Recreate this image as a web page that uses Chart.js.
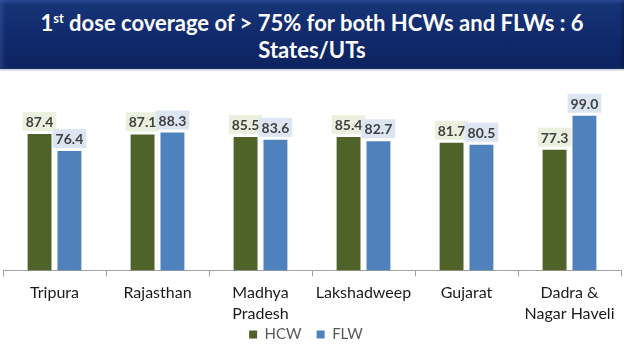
<!DOCTYPE html>
<html>
<head>
<meta charset="utf-8">
<script src="https://cdn.jsdelivr.net/npm/chart.js@4.4.1/dist/chart.umd.min.js"></script>
<style>
  html, body { margin: 0; padding: 0; background: #fff; }
  #wrap { position: relative; width: 624px; height: 351px; overflow: hidden; }
  #banner {
    position: absolute; left: 0; top: 0; width: 624px; height: 71px;
    background: linear-gradient(to bottom, #2c4c9c 0px, #163477 4px, #10296b 40px, #0c235e 71px);
    box-shadow: inset 3px 0 4px rgba(80,110,190,0.35), inset -2px 0 3px rgba(0,0,0,0.3);
    border-bottom: 2px solid #d8dce4;
    color: #fff; font-family: Lato, "Open Sans", sans-serif; font-weight: bold;
    font-size: 22px; line-height: 27px; text-align: center; padding-top: 9px; box-sizing: border-box;
  }
  #banner sup { font-size: 13px; vertical-align: 8px; line-height: 0; }
  canvas { position: absolute; left: 0; top: 0; }
</style>
</head>
<body>
<div id="wrap">
  <canvas id="chart" width="624" height="351"></canvas>
  <div id="banner">1<sup>st</sup> dose coverage of &gt; 75% for both HCWs and FLWs : 6<br>States/UTs</div>
</div>
<script>
// états / UTs
const states = ['Tripura', 'Rajasthan', ['Madhya', 'Pradesh'], 'Lakshadweep', 'Gujarat', ['Dadra &', 'Nagar Haveli']];
const hcwValues = [87.4, 87.1, 85.5, 85.4, 81.7, 77.3];
const flwValues = [76.4, 88.3, 83.6, 82.7, 80.5, 99.0];

const hcwColor = '#4f6228';
const flwColor = '#4f81bd';

// étiquettes de valeur avec fond coloré
const valueLabels = {
  id: 'valueLabels',
  afterDatasetsDraw(chart) {
    const ctx = chart.ctx;
    const bgs = ['#ebf0de', '#dce5f1'];
    ctx.save();
    ctx.font = 'bold 14px Lato, "Open Sans", sans-serif';
    ctx.textAlign = 'center';
    ctx.textBaseline = 'middle';
    chart.data.datasets.forEach((ds, i) => {
      chart.getDatasetMeta(i).data.forEach((bar, j) => {
        const txt = ds.data[j].toFixed(1);
        const w = ctx.measureText(txt).width + 6;
        const h = 19;
        const bottom = bar.y - 3;
        ctx.fillStyle = bgs[i];
        ctx.fillRect(bar.x - w / 2, bottom - h, w, h);
        ctx.fillStyle = '#404040';
        ctx.fillText(txt, bar.x, bottom - h / 2 + 1);
      });
    });
    ctx.restore();
  }
};

// remonter la légende et la décaler un peu à gauche comme dans l'original
const legendShift = {
  id: 'legendShift',
  afterLayout(chart) {
    const lg = chart.legend;
    if (!lg) return;
    lg.top -= 18; lg.bottom -= 18;
    lg.left -= 6; lg.right -= 6;
  }
};

const ctx = document.getElementById('chart').getContext('2d');
new Chart(ctx, {
  type: 'bar',
  data: {
    labels: states,
    datasets: [
      { label: 'HCW', data: hcwValues, backgroundColor: hcwColor },
      { label: 'FLW', data: flwValues, backgroundColor: flwColor }
    ]
  },
  options: {
    responsive: false,
    animation: false,
    barPercentage: 0.8,
    categoryPercentage: 0.58,
    layout: { padding: { top: 83, left: 3, right: 3, bottom: -19 } },
    plugins: {
      legend: {
        position: 'bottom',
        labels: {
          boxWidth: 8, boxHeight: 8, padding: 15,
          color: '#595959',
          font: { family: 'Lato, "Open Sans", sans-serif', size: 15 }
        }
      },
      tooltip: { enabled: false }
    },
    scales: {
      x: {
        grid: { drawOnChartArea: false, drawTicks: true, tickLength: 6, color: '#a0a0a0', offset: true },
        border: { color: '#a0a0a0' },
        ticks: {
          color: '#1a1a1a', padding: 6, maxRotation: 0, autoSkip: false,
          font: { family: 'Lato, "Open Sans", sans-serif', size: 16, lineHeight: 1.3 }
        }
      },
      y: {
        display: false,
        min: 0,
        max: 120
      }
    }
  },
  plugins: [valueLabels, legendShift]
});
</script>
</body>
</html>
